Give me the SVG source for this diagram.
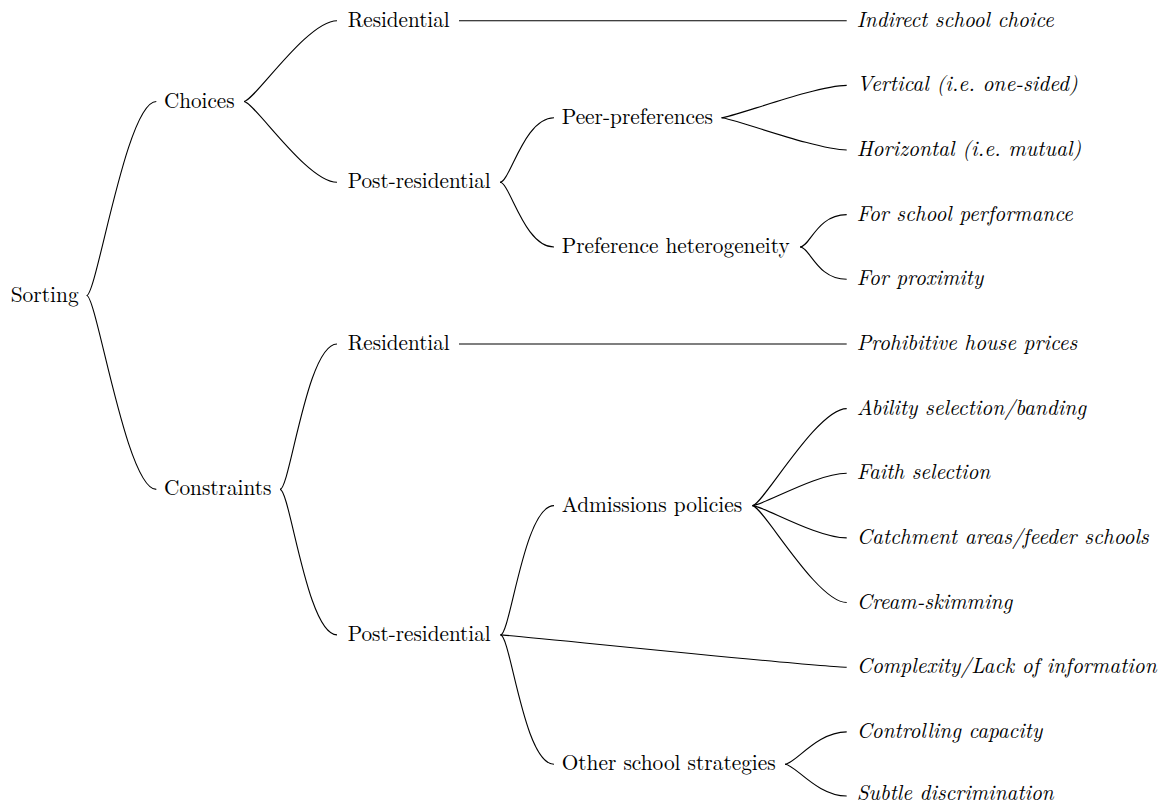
<svg xmlns="http://www.w3.org/2000/svg" width="1168" height="805" viewBox="0 0 1168 805">
<style>
  text { font-family: 'Latin Modern Roman', 'CMU Serif', 'Liberation Serif', 'Times New Roman', Times, Tinos, 'Noto Serif', 'DejaVu Serif', FreeSerif, Georgia, serif; font-size: 21.5px; fill: #000; }
  text.leaf { font-style: italic; }
  #connectors path { fill: none; stroke: #000; stroke-width: 1.1; }
</style>
<rect width="1168" height="805" fill="#fff"/>
<g id="connectors">
  <path d="M86.7 295.5 C96.7 295.5 126.3 101.5 156.3 101.5"/>
  <path d="M86.7 295.5 C96.7 295.5 126.3 489.4 156.3 489.4"/>
  <path d="M244 101.5 C254 101.5 307 20.7 337 20.7"/>
  <path d="M244 101.5 C254 101.5 307 182.3 337 182.3"/>
  <path d="M280 489.4 C290 489.4 307 343.95 337 343.95"/>
  <path d="M280 489.4 C290 489.4 307 634.9 337 634.9"/>
  <path d="M459 20.7 L846.7 20.7"/>
  <path d="M500 182.3 C510 182.3 524 117.7 554 117.7"/>
  <path d="M500 182.3 C510 182.3 524 247 554 247"/>
  <path d="M721.5 117.7 C731.5 117.7 816.7 85.35 846.7 85.35"/>
  <path d="M721.5 117.7 C731.5 117.7 816.7 150 846.7 150"/>
  <path d="M800 247 C810 247 816.7 214.65 846.7 214.65"/>
  <path d="M800 247 C810 247 816.7 279.3 846.7 279.3"/>
  <path d="M459 343.95 L846.7 343.95"/>
  <path d="M500.5 634.9 C510.5 634.9 524 505.6 554 505.6"/>
  <path d="M500.5 634.9 C510.5 634.9 816.7 667.2 846.7 667.2"/>
  <path d="M500.5 634.9 C510.5 634.9 524 764.2 554 764.2"/>
  <path d="M752.5 505.6 C762.5 505.6 816.7 408.6 846.7 408.6"/>
  <path d="M752.5 505.6 C762.5 505.6 816.7 473.25 846.7 473.25"/>
  <path d="M752.5 505.6 C762.5 505.6 816.7 537.9 846.7 537.9"/>
  <path d="M752.5 505.6 C762.5 505.6 816.7 602.55 846.7 602.55"/>
  <path d="M785 764.2 C795 764.2 816.7 731.85 846.7 731.85"/>
  <path d="M785 764.2 C795 764.2 816.7 796 846.7 796"/>
</g>
<g id="n-sorting"><text x="10.7" y="301.5" textLength="68" lengthAdjust="spacingAndGlyphs">Sorting</text></g>
<g id="n-choices"><text x="164" y="107.5" textLength="70.5" lengthAdjust="spacingAndGlyphs">Choices</text></g>
<g id="n-constraints"><text x="164" y="495.4" textLength="107.5" lengthAdjust="spacingAndGlyphs">Constraints</text></g>
<g id="n-res1"><text x="347.7" y="26.7" textLength="102" lengthAdjust="spacingAndGlyphs">Residential</text></g>
<g id="n-postres1"><text x="347.7" y="188.3" textLength="143" lengthAdjust="spacingAndGlyphs">Post-residential</text></g>
<g id="n-res2"><text x="347.7" y="349.95" textLength="102" lengthAdjust="spacingAndGlyphs">Residential</text></g>
<g id="n-postres2"><text x="347.7" y="640.9" textLength="143" lengthAdjust="spacingAndGlyphs">Post-residential</text></g>
<g id="n-peer"><text x="561.7" y="123.7" textLength="151.3" lengthAdjust="spacingAndGlyphs">Peer-preferences</text></g>
<g id="n-prefhet"><text x="561.7" y="253" textLength="228" lengthAdjust="spacingAndGlyphs">Preference heterogeneity</text></g>
<g id="n-admissions"><text x="561.7" y="511.6" textLength="180.5" lengthAdjust="spacingAndGlyphs">Admissions policies</text></g>
<g id="n-other"><text x="561.7" y="770.2" textLength="214" lengthAdjust="spacingAndGlyphs">Other school strategies</text></g>
<g id="l-indirect"><text class="leaf" x="856.7" y="26.7" textLength="197" lengthAdjust="spacingAndGlyphs">Indirect school choice</text></g>
<g id="l-vertical"><text class="leaf" x="856.7" y="91.35" textLength="221" lengthAdjust="spacingAndGlyphs">Vertical (i.e. one-sided)</text></g>
<g id="l-horizontal"><text class="leaf" x="856.7" y="156" textLength="224.5" lengthAdjust="spacingAndGlyphs">Horizontal (i.e. mutual)</text></g>
<g id="l-forschool"><text class="leaf" x="856.7" y="220.65" textLength="216" lengthAdjust="spacingAndGlyphs">For school performance</text></g>
<g id="l-forprox"><text class="leaf" x="856.7" y="285.3" textLength="126.5" lengthAdjust="spacingAndGlyphs">For proximity</text></g>
<g id="l-prohibitive"><text class="leaf" x="856.7" y="349.95" textLength="220.5" lengthAdjust="spacingAndGlyphs">Prohibitive house prices</text></g>
<g id="l-ability"><text class="leaf" x="856.7" y="414.6" textLength="229.5" lengthAdjust="spacingAndGlyphs">Ability selection/banding</text></g>
<g id="l-faith"><text class="leaf" x="856.7" y="479.25" textLength="133.5" lengthAdjust="spacingAndGlyphs">Faith selection</text></g>
<g id="l-catchment"><text class="leaf" x="856.7" y="543.9" textLength="292" lengthAdjust="spacingAndGlyphs">Catchment areas/feeder schools</text></g>
<g id="l-cream"><text class="leaf" x="856.7" y="608.55" textLength="155.5" lengthAdjust="spacingAndGlyphs">Cream-skimming</text></g>
<g id="l-complexity"><text class="leaf" x="856.7" y="673.2" textLength="300" lengthAdjust="spacingAndGlyphs">Complexity/Lack of information</text></g>
<g id="l-controlling"><text class="leaf" x="856.7" y="737.85" textLength="185.5" lengthAdjust="spacingAndGlyphs">Controlling capacity</text></g>
<g id="l-subtle"><text class="leaf" x="856.7" y="800.3" textLength="197" lengthAdjust="spacingAndGlyphs">Subtle discrimination</text></g>
</svg>
